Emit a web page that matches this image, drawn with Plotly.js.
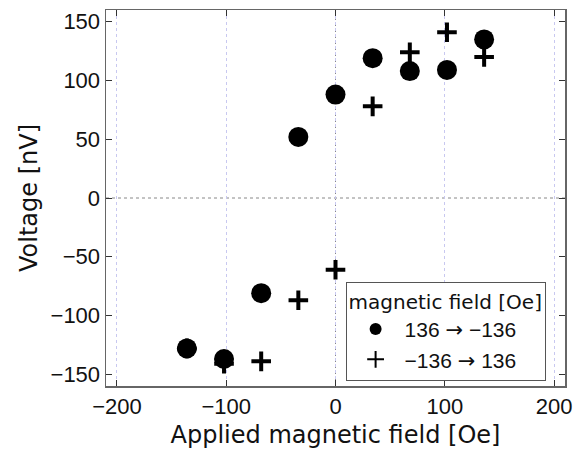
<!DOCTYPE html>
<html><head><meta charset="utf-8">
<script src="https://cdn.plot.ly/plotly-3.0.1.min.js"></script>
<style>html,body{margin:0;padding:0;background:#fff}#g{width:580px;height:452px}</style>
</head><body><div id="g"></div>
<script>
const fieldDown = [136, 102, 68, 34, 0, -34, -68, -102, -136];
const voltageDown = [135, 109, 108, 119, 88, 52, -81, -137, -128];
const fieldUp = [-136, -102, -68, -34, 0, 34, 68, 102, 136];
const voltageUp = [-128, -141, -139, -87, -61, 78, 124, 141, 120];
const arrow = "<span style=\"font-family:'DejaVu Sans'\">\u2192</span>";
const nameDown = "136 " + arrow + " \u2212136";
const nameUp = "\u2212136 " + arrow + " 136";
const xTicks = [-200, -100, 0, 100, 200];
const yTicks = [-150, -100, -50, 0, 50, 100, 150];

const fontTick = "Liberation Sans, Arial, sans-serif";
const fontTitle = "DejaVu Sans, sans-serif";
const traces = [
  {x: fieldUp, y: voltageUp, name: nameUp, mode: "markers", type: "scatter",
   marker: {symbol: "cross-thin", size: 14, color: "#000", line: {color: "#000", width: 4}}},
  {x: fieldDown, y: voltageDown, name: nameDown, mode: "markers", type: "scatter",
   marker: {symbol: "circle", size: 20, color: "#000"}}
];
const layout = {
  width: 580, height: 452,
  margin: {l: 106, r: 15, t: 10, b: 66},
  paper_bgcolor: "#fff", plot_bgcolor: "#fff",
  font: {family: fontTick, size: 22, color: "#111"},
  showlegend: true,
  legend: {x: 0.522, y: 0.277, xanchor: "left", yanchor: "top",
    bgcolor: "#fff", bordercolor: "#555", borderwidth: 1,
    traceorder: "reversed", itemsizing: "constant", itemwidth: 48,
    title: {text: "magnetic field [Oe]", font: {size: 20, family: fontTitle}},
    font: {size: 21, family: fontTick}},
  xaxis: {range: [-210, 210], tickvals: xTicks, ticks: "inside", ticklen: 6,
    tickcolor: "#333", showline: true, linecolor: "#666", linewidth: 1.5, mirror: "ticks",
    showgrid: true, gridcolor: "#c8c8f0", griddash: "dot", gridwidth: 1, zeroline: false,
    title: {text: "Applied magnetic field [Oe]", font: {size: 24, family: fontTitle}, standoff: 8}},
  yaxis: {range: [-160, 160], tickvals: yTicks, ticks: "inside", ticklen: 6,
    tickcolor: "#333", showline: true, linecolor: "#666", linewidth: 1.5, mirror: "ticks",
    showgrid: false, zeroline: false,
    title: {text: "Voltage [nV]", font: {size: 24, family: fontTitle}, standoff: 6}},
  shapes: [
    {type: "line", xref: "paper", x0: 0, x1: 1, yref: "y", y0: 0, y1: 0,
     line: {color: "#888", width: 1, dash: "dot"}, layer: "below"},
    {type: "line", yref: "paper", y0: 0, y1: 1, xref: "x", x0: 0, x1: 0,
     line: {color: "#888", width: 1, dash: "dot"}, layer: "below"}
  ]
};
Plotly.newPlot("g", traces, layout, {displayModeBar: false, staticPlot: true});
</script></body></html>
